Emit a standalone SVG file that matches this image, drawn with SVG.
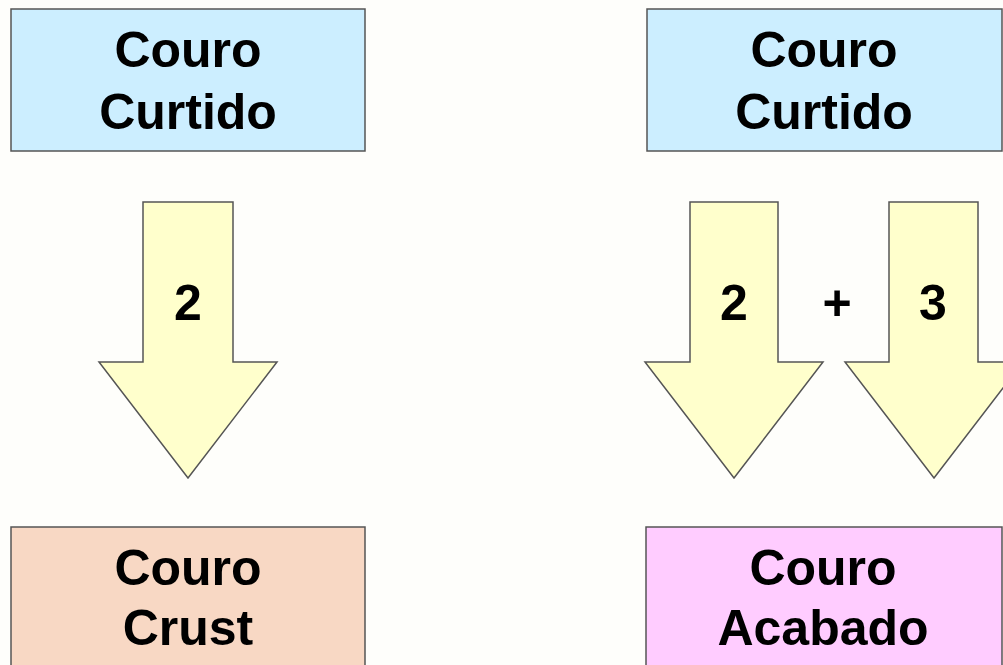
<svg xmlns="http://www.w3.org/2000/svg" width="1003" height="665" viewBox="0 0 1003 665">
<style>
.box{stroke:#555555;stroke-width:1.5}
.arrow{fill:#FFFFCC;stroke:#555555;stroke-width:1.5;stroke-linejoin:miter}
text{font-family:"Liberation Sans",Arial,sans-serif;font-weight:bold;font-size:50px;fill:#000;text-anchor:middle}
</style>
<rect width="1003" height="665" fill="#FEFEFB"/>
<g id="curtido-left">
<rect class="box" x="11" y="9" width="354" height="142" fill="#CCEEFF"/>
<text x="188" y="67">Couro</text>
<text x="188" y="129">Curtido</text>
</g>
<g id="curtido-right">
<rect class="box" x="647" y="9" width="355" height="142" fill="#CCEEFF"/>
<text x="824" y="67">Couro</text>
<text x="824" y="129">Curtido</text>
</g>
<g id="crust">
<rect class="box" x="11" y="527" width="354" height="145" fill="#F8D8C4"/>
<text x="188" y="585">Couro</text>
<text x="188" y="645">Crust</text>
</g>
<g id="acabado">
<rect class="box" x="646" y="527" width="356" height="145" fill="#FFCCFF"/>
<text x="823" y="585">Couro</text>
<text x="823" y="645">Acabado</text>
</g>
<g id="connectors">
<g id="arrow-2-left">
<polygon class="arrow" points="143,202 233,202 233,362 277,362 188,478 99,362 143,362"/>
<text x="188" y="320">2</text>
</g>
<g id="arrow-2-right">
<polygon class="arrow" points="690,202 778,202 778,362 823,362 734,478 645,362 690,362"/>
<text x="734" y="320">2</text>
</g>
<text x="837" y="320">+</text>
<g id="arrow-3">
<polygon class="arrow" points="889,202 978,202 978,362 1023,362 934,478 845,362 889,362"/>
<text x="933" y="320">3</text>
</g>
</g>
</svg>
